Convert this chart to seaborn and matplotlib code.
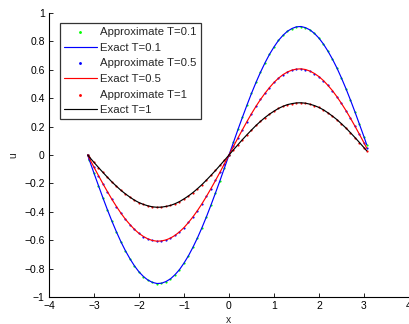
import numpy as np
import pandas as pd
import matplotlib
matplotlib.use('Agg')
import matplotlib.pyplot as plt
import seaborn as sns

sns.set_style('ticks')
plt.rcParams['font.family'] = ['Liberation Sans', 'DejaVu Sans']

# x grid and u values
x = [-3.14, -3.1, -3.0, -2.9, -2.8, -2.7, -2.6, -2.5, -2.4, -2.3, -2.2, -2.1, -2.0, -1.9, -1.8, -1.7,
     -1.6, -1.5, -1.4, -1.3, -1.2, -1.1, -1.0, -0.9, -0.8, -0.7, -0.6, -0.5, -0.4, -0.3, -0.2, -0.1,
     0.0, 0.1, 0.2, 0.3, 0.4, 0.5, 0.6, 0.7, 0.8, 0.9, 1.0, 1.1, 1.2, 1.3, 1.4, 1.5,
     1.6, 1.7, 1.8, 1.9, 2.0, 2.1, 2.2, 2.3, 2.4, 2.5, 2.6, 2.7, 2.8, 2.9, 3.0, 3.06]
u_t01 = [0.0, -0.038, -0.128, -0.216, -0.303, -0.387, -0.467, -0.542, -0.612, -0.675, -0.731, -0.781, -0.823, -0.856, -0.881, -0.897,
         -0.905, -0.903, -0.891, -0.872, -0.843, -0.807, -0.761, -0.709, -0.649, -0.583, -0.511, -0.434, -0.352, -0.267, -0.180, -0.090,
         0.0, 0.090, 0.180, 0.267, 0.352, 0.434, 0.511, 0.583, 0.649, 0.709, 0.761, 0.807, 0.843, 0.872, 0.891, 0.903,
         0.905, 0.897, 0.881, 0.856, 0.823, 0.781, 0.731, 0.675, 0.612, 0.542, 0.467, 0.387, 0.303, 0.216, 0.128, 0.073]
u_t05 = [0.0, -0.025, -0.086, -0.145, -0.203, -0.259, -0.313, -0.363, -0.410, -0.453, -0.490, -0.524, -0.552, -0.574, -0.591, -0.602,
         -0.607, -0.605, -0.598, -0.585, -0.566, -0.541, -0.511, -0.475, -0.435, -0.391, -0.343, -0.291, -0.236, -0.179, -0.121, -0.061,
         0.0, 0.061, 0.121, 0.179, 0.236, 0.291, 0.343, 0.391, 0.435, 0.475, 0.511, 0.541, 0.566, 0.585, 0.598, 0.605,
         0.607, 0.602, 0.591, 0.574, 0.552, 0.524, 0.490, 0.453, 0.410, 0.363, 0.313, 0.259, 0.203, 0.145, 0.086, 0.049]
u_t1 = [0.0, -0.015, -0.052, -0.088, -0.123, -0.157, -0.190, -0.220, -0.249, -0.274, -0.297, -0.318, -0.335, -0.348, -0.358, -0.365,
        -0.368, -0.367, -0.362, -0.355, -0.343, -0.328, -0.309, -0.288, -0.264, -0.237, -0.208, -0.176, -0.143, -0.109, -0.073, -0.037,
        0.0, 0.037, 0.073, 0.109, 0.143, 0.176, 0.208, 0.237, 0.264, 0.288, 0.309, 0.328, 0.343, 0.355, 0.362, 0.367,
        0.368, 0.365, 0.358, 0.348, 0.335, 0.318, 0.297, 0.274, 0.249, 0.220, 0.190, 0.157, 0.123, 0.088, 0.052, 0.030]

series = [('0.1', u_t01, '#00ff00', '#0000ff'),
          ('0.5', u_t05, '#0000ff', '#ff0000'),
          ('1', u_t1, '#ff0000', '#000000')]

fig = plt.figure(figsize=(4.1, 3.24), dpi=100)
ax = fig.add_axes([0.1195, 0.0833, 0.878, 0.8765])

for T, u, dot_col, line_col in series:
    df = pd.DataFrame({'x': x, 'u': u})
    sns.scatterplot(data=df, x='x', y='u', ax=ax, color=dot_col, s=2.5, linewidth=0,
                    marker='o', label='Approximate T=' + T, zorder=2)
    sns.lineplot(data=df, x='x', y='u', ax=ax, color=line_col, lw=0.85, sort=False,
                 estimator=None, label='Exact T=' + T, zorder=3)

ax.set_xlim(-4, 4)
ax.set_ylim(-1, 1)
yt = [-1.0, -0.8, -0.6, -0.4, -0.2, 0.0, 0.2, 0.4, 0.6, 0.8, 1.0]
ax.set_xticks(np.arange(-4, 5, 1))
ax.set_yticks(yt)
ax.set_yticklabels([f'{v:g}'.replace('-', '\u2212') for v in yt])
ax.set_xticklabels([f'{v:g}'.replace('-', '\u2212') for v in range(-4, 5)])
ax.tick_params(direction='in', length=3, width=0.6, labelsize=7.5, pad=3, colors='black')
for s in ['top', 'right']:
    ax.spines[s].set_visible(False)
for s in ['left', 'bottom']:
    ax.spines[s].set_linewidth(0.8)
    ax.spines[s].set_color('black')
ax.set_xlabel('x', fontsize=7.5, labelpad=3)
ax.set_ylabel('u', fontsize=7.5, labelpad=4)

leg = ax.legend(loc='upper left', bbox_to_anchor=(60 / 410, 1 - 23 / 324), bbox_transform=fig.transFigure,
                fontsize=8.2, frameon=True, fancybox=False, handlelength=2.9, handletextpad=0.3,
                labelspacing=0.5, borderpad=0.35, borderaxespad=0, markerscale=1.3, scatterpoints=1)
leg.get_frame().set_edgecolor('black')
leg.get_frame().set_linewidth(0.9)

fig.savefig('out.png', dpi=100)
